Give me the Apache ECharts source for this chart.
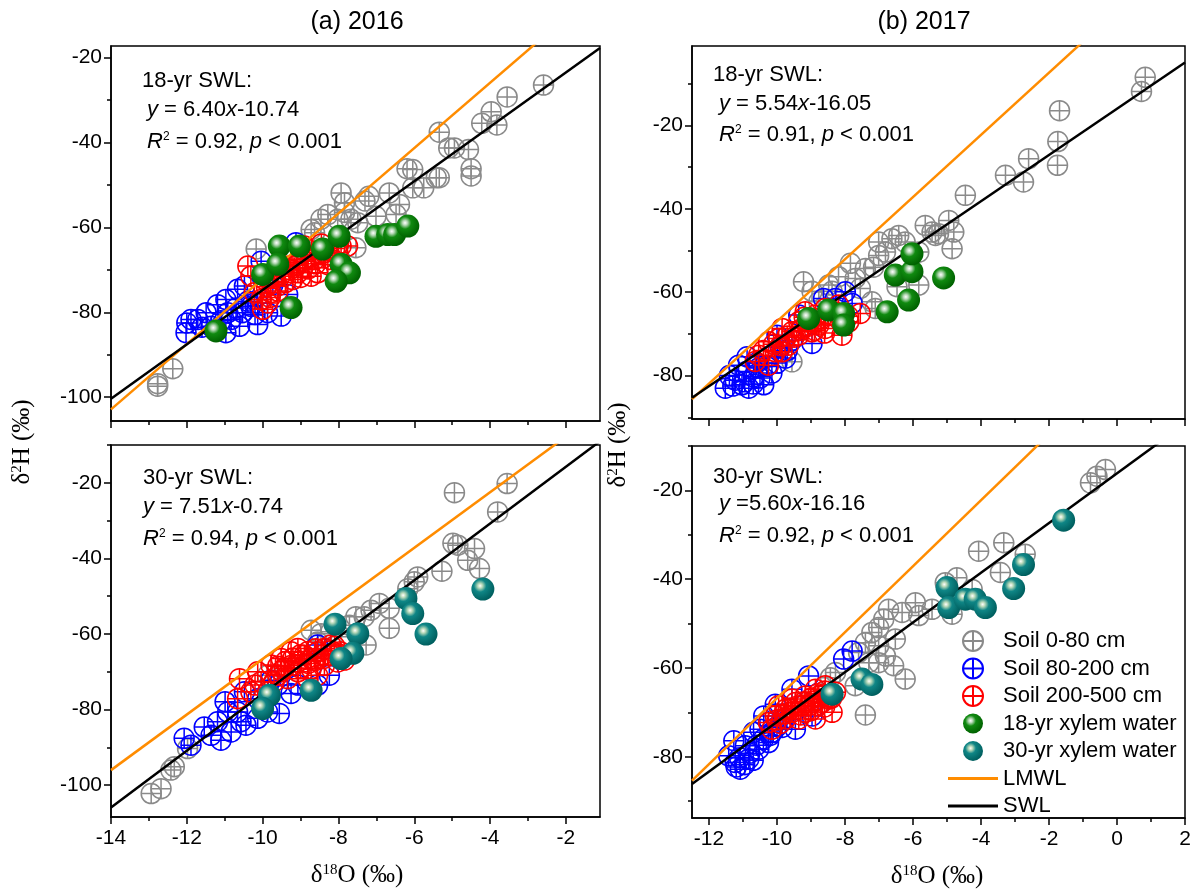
<!DOCTYPE html>
<html>
<head>
<meta charset="utf-8">
<script src="https://cdn.jsdelivr.net/npm/echarts@6/dist/echarts.min.js"></script>
<style>
html, body { margin: 0; background: #fff; }
#chart { width: 1203px; height: 894px; }
</style>
</head>
<body>
<div id="chart"></div>
<script>
// ---- data (δ18O, δ2H) ----
// (a) 2016, 18-yr stand
var a18Gray = [[-2.59,-26.5],[-3.55,-29.3],[-3.97,-32.8],[-4.22,-35.5],[-3.82,-35.9],[-5.34,-37.6],[-4.94,-41.3],[-5.09,-41.3],[-4.57,-41.7],[-4.50,-46.2],[-4.50,-47.9],[-5.34,-48.3],[-5.42,-48.3],[-5.75,-50.7],[-6.04,-46.4],[-6.19,-46.2],[-6.04,-50.7],[-6.39,-54.6],[-6.66,-51.9],[-7.20,-52.7],[-7.30,-53.8],[-7.01,-57.4],[-6.48,-57.0],[-7.93,-51.9],[-7.84,-54.2],[-8.28,-57.0],[-8.46,-58.1],[-7.67,-58.1],[-7.49,-58.9],[-7.84,-56.5],[-8.02,-58.1],[-8.63,-61.3],[-8.72,-60.5],[-7.54,-64.8],[-10.17,-65.1],[-12.37,-93.3],[-12.77,-97.4],[-12.77,-96.8]];
var a18Blue = [[-12.0,-82.5],[-11.89,-81.7],[-12.02,-84.8],[-11.71,-81.7],[-11.49,-80.1],[-10.97,-77.0],[-11.19,-78.2],[-10.97,-84.8],[-10.61,-83.3],[-10.83,-81.7],[-10.13,-82.9],[-10.53,-80.1],[-10.39,-77.4],[-10.31,-78.6],[-10.04,-68.0],[-10.48,-73.8],[-9.34,-75.8],[-9.51,-80.9],[-9.87,-80.1],[-9.73,-73.5],[-10.66,-74.6],[-9.12,-63.6],[-10.92,-80.1],[-11.36,-83.3],[-10.13,-77.8],[-11.1,-82.0],[-10.7,-79.0],[-10.2,-80.5],[-11.6,-83.5]];
var a18Red = [[-10.39,-69.1],[-10.31,-71.5],[-9.95,-72.3],[-10.04,-77.0],[-10.0,-79.3],[-9.78,-75.4],[-9.51,-69.1],[-9.25,-66.8],[-9.07,-68.3],[-8.72,-71.5],[-8.63,-67.6],[-8.37,-66.0],[-8.20,-67.6],[-7.93,-64.4],[-7.76,-64.4],[-8.81,-65.2],[-8.55,-70.7],[-9.43,-71.5],[-9.60,-73.8],[-9.87,-77.8],[-9.07,-70.7],[-8.28,-68.8],[-8.90,-64.4],[-10.22,-75.4],[-9.21,-72.3],[-8.02,-66.0],[-8.94,-69.5],
    [-9.9,-74.0],[-9.7,-72.0],[-9.5,-71.0],[-9.3,-70.0],[-9.1,-69.0],[-8.9,-68.0],[-8.7,-67.0],[-8.5,-66.0],[-8.3,-65.5],[-8.1,-65.0],[-9.0,-71.8],[-8.8,-69.8],[-8.6,-68.6],[-8.4,-67.2],[-9.4,-73.0],[-9.6,-75.0],[-9.8,-76.5],[-9.2,-67.5],[-8.0,-64.0],[-8.45,-63.9]];
var a18Xylem = [[-9.56,-64.4],[-9.03,-64.4],[-8.42,-65.1],[-7.98,-62.1],[-7.93,-68.7],[-7.71,-70.7],[-8.06,-72.7],[-9.25,-78.9],[-11.23,-84.4],[-10.0,-71.1],[-9.60,-68.7],[-7.01,-62.1],[-6.70,-61.7],[-6.52,-61.7],[-6.17,-59.7]];

// (b) 2017, 18-yr stand
var b18Gray = [[0.83,-8.5],[0.72,-11.9],[-1.69,-16.5],[-1.74,-23.9],[-1.75,-29.6],[-2.60,-28.0],[-3.28,-32.0],[-2.75,-33.6],[-4.46,-36.8],[-4.95,-42.8],[-4.80,-45.6],[-4.85,-49.6],[-5.34,-46.4],[-5.44,-45.6],[-5.25,-46.0],[-5.64,-44.0],[-6.42,-46.4],[-6.62,-47.2],[-6.23,-48.0],[-7.01,-48.0],[-6.81,-50.4],[-7.01,-51.2],[-7.16,-54.0],[-7.40,-54.3],[-7.84,-53.1],[-7.70,-56.7],[-5.83,-50.4],[-5.83,-58.3],[-6.47,-58.7],[-7.21,-62.3],[-7.11,-63.9],[-7.55,-59.1],[-9.22,-57.5],[-8.97,-59.8],[-8.48,-58.3],[-8.38,-59.8],[-8.19,-56.3],[-8.77,-62.3],[-9.56,-76.7]];
var b18Blue = [[-11.52,-83.0],[-11.03,-82.2],[-10.83,-83.0],[-10.39,-82.2],[-11.23,-81.1],[-10.54,-78.2],[-10.88,-75.5],[-10.25,-75.5],[-9.90,-73.1],[-10.0,-70.3],[-9.56,-71.5],[-8.97,-72.3],[-8.63,-61.5],[-7.99,-59.9],[-7.79,-62.7],[-9.36,-65.5],[-10.69,-80.3],[-11.13,-77.5],[-10.15,-79.4],[-9.75,-75.8],[-8.28,-61.5],
    [-11.3,-82.5],[-10.95,-81.5],[-10.7,-82.0],[-10.5,-80.6],[-10.9,-79.0],[-10.6,-77.0],[-10.3,-77.8],[-10.0,-77.0],[-9.7,-74.0],[-11.4,-80.0]];
var b18Red = [[-10.64,-76.6],[-10.54,-75.1],[-10.25,-71.9],[-9.95,-71.1],[-9.85,-74.3],[-9.56,-69.5],[-9.36,-67.1],[-9.17,-64.7],[-8.87,-65.5],[-8.58,-63.9],[-8.19,-63.1],[-8.09,-70.3],[-7.55,-65.1],[-7.89,-67.1],[-8.97,-69.5],[-8.58,-68.7],[-9.36,-70.3],[-10.05,-74.3],[-9.07,-67.1],[-8.38,-65.5],[-9.66,-72.7],[-8.77,-67.9],[-9.26,-68.7],[-10.25,-77.5],[-9.85,-68.7],
    [-10.4,-74.0],[-10.1,-72.5],[-9.9,-72.8],[-9.7,-70.5],[-9.5,-70.8],[-9.3,-69.2],[-9.1,-68.2],[-8.9,-67.2],[-8.7,-66.4],[-8.5,-65.6],[-8.3,-64.7],[-8.1,-66.5],[-8.9,-69.1],[-9.2,-66.0],[-8.6,-69.8],[-7.9,-65.8]];
var b18Xylem = [[-9.07,-66.3],[-8.48,-64.3],[-8.04,-65.1],[-8.04,-67.9],[-6.76,-64.7],[-6.13,-61.9],[-6.52,-55.9],[-6.03,-55.1],[-6.03,-50.8],[-5.10,-56.6]];

// (a) 2016, 30-yr stand
var a30Gray = [[-3.55,-20.2],[-4.94,-22.6],[-3.80,-27.7],[-4.98,-36.0],[-4.85,-36.5],[-4.41,-37.4],[-4.59,-40.5],[-4.28,-42.7],[-5.27,-43.4],[-5.91,-44.9],[-6.0,-46.2],[-6.17,-48.0],[-6.66,-53.2],[-6.92,-51.9],[-7.14,-53.7],[-7.32,-55.4],[-7.54,-55.4],[-6.66,-58.5],[-7.27,-62.9],[-7.71,-57.7],[-8.72,-59.0],[-8.46,-59.9],[-8.20,-59.4],[-7.93,-60.7],[-8.55,-62.1],[-12.33,-95.1],[-12.42,-96.0],[-12.94,-102.2],[-12.68,-100.9],[-11.98,-90.3],[-9.87,-70.9]];
var a30Blue = [[-12.07,-87.6],[-11.89,-89.4],[-11.54,-84.6],[-11.10,-88.1],[-10.83,-85.9],[-11.36,-86.8],[-10.99,-77.9],[-10.92,-80.6],[-10.48,-75.3],[-10.44,-84.1],[-10.13,-82.3],[-9.87,-80.6],[-9.56,-81.0],[-9.25,-75.7],[-10.13,-77.1],[-10.66,-80.6],[-8.55,-62.9],[-8.24,-70.9],[-8.55,-73.5],[-9.78,-72.2],[-10.57,-83.2],[-11.19,-83.2],[-9.60,-73.5],[-9.07,-73.5]];
var a30Red = [[-10.61,-71.8],[-10.66,-77.1],[-10.31,-75.3],[-10.04,-72.6],[-9.78,-68.2],[-9.51,-66.5],[-9.25,-64.7],[-9.07,-63.8],[-8.90,-65.6],[-8.72,-66.5],[-8.55,-64.7],[-8.37,-63.8],[-8.20,-62.9],[-8.02,-67.4],[-7.84,-66.9],[-9.07,-70.0],[-9.34,-71.8],[-9.60,-70.9],[-8.72,-69.2],[-8.55,-70.9],[-9.07,-67.4],[-9.43,-69.1],[-8.37,-68.3],[-10.13,-70.0],[-8.81,-71.8],[-9.87,-75.3],[-8.20,-65.6],[-9.25,-68.3],
    [-9.6,-68.5],[-9.4,-67.3],[-9.2,-66.4],[-9.0,-65.5],[-8.8,-64.6],[-8.6,-63.9],[-8.4,-65.5],[-8.2,-64.4],[-8.0,-65.2],[-9.0,-69.0],[-8.8,-67.8],[-8.6,-67.0],[-8.4,-66.5],[-9.7,-72.6],[-10.2,-73.5],[-9.5,-69.8],[-8.1,-63.2],[-7.95,-64.7]];
var a30Xylem = [[-4.19,-48.1],[-6.22,-50.6],[-6.04,-54.6],[-5.69,-60.0],[-8.09,-57.4],[-7.49,-59.9],[-7.62,-65.1],[-7.93,-66.5],[-8.72,-74.9],[-9.82,-76.2],[-10.0,-79.7]];

// (b) 2017, 30-yr stand
var b30Gray = [[-0.34,-15.3],[-0.59,-16.8],[-0.78,-18.3],[-3.33,-31.8],[-4.07,-33.7],[-2.70,-34.4],[-3.43,-38.5],[-4.71,-39.7],[-5.05,-40.8],[-4.26,-42.3],[-4.85,-47.9],[-5.93,-45.3],[-6.72,-46.8],[-6.32,-47.5],[-6.86,-49.0],[-7.01,-50.9],[-7.21,-52.0],[-6.52,-53.5],[-7.01,-55.0],[-6.81,-57.3],[-6.23,-62.5],[-6.57,-59.5],[-7.40,-54.3],[-7.60,-56.5],[-7.30,-58.8],[-7.70,-64.0],[-7.40,-70.6],[-8.28,-61.0],[-8.43,-62.2],[-5.83,-48.2],[-5.44,-46.8],[-7.01,-58.8]];
var b30Blue = [[-11.27,-76.4],[-11.42,-79.8],[-11.08,-82.8],[-11.23,-81.3],[-10.83,-80.5],[-10.54,-78.3],[-10.39,-70.8],[-10.05,-68.2],[-9.56,-64.8],[-9.07,-61.8],[-8.04,-58.0],[-7.79,-56.2],[-10.69,-74.5],[-10.25,-76.8],[-9.85,-73.4],[-9.46,-73.8],[-8.97,-70.8],[-10.93,-77.5],[-10.15,-74.5],
    [-11.1,-80.2],[-10.95,-81.8],[-10.8,-79.2],[-10.6,-77.4],[-10.4,-76.0],[-10.2,-75.2],[-10.0,-73.2],[-9.8,-71.6],[-10.5,-73.8],[-11.2,-82.3],[-10.7,-80.8]];
var b30Red = [[-10.25,-72.3],[-10.05,-70.8],[-9.75,-69.3],[-9.46,-67.8],[-9.17,-66.3],[-8.87,-64.8],[-8.58,-64.0],[-8.28,-65.5],[-8.38,-70.0],[-8.87,-71.5],[-9.56,-70.0],[-10.15,-73.8],[-9.26,-68.5],[-9.75,-71.5],[-9.07,-68.5],[-8.68,-67.8],[-9.36,-71.5],[-9.95,-68.5],[-9.56,-67.0],[-8.77,-66.3],[-8.48,-67.0],[-9.17,-70.0],
    [-10.0,-71.7],[-9.8,-70.4],[-9.6,-69.0],[-9.4,-68.6],[-9.2,-67.6],[-9.0,-66.8],[-8.8,-65.8],[-8.6,-65.2],[-8.5,-66.5],[-9.0,-69.6],[-8.8,-68.5],[-8.6,-68.8],[-9.3,-70.6],[-9.9,-72.5],[-8.4,-66.8],[-8.9,-67.5]];
var b30Xylem = [[-1.57,-26.7],[-2.75,-36.7],[-3.04,-42.1],[-5.0,-41.9],[-4.95,-46.4],[-4.46,-44.5],[-4.17,-44.5],[-3.87,-46.4],[-7.50,-62.5],[-7.21,-63.7],[-8.38,-65.9]];

// fitted lines per panel: (a)18, (b)18, (a)30, (b)30
var swlSlope = [6.40, 5.54, 7.51, 5.60];
var swlIntercept = [-10.74, -16.05, -0.74, -16.16];
var lmwlSlope = [7.69, 7.45, 7.35, 7.43];
var lmwlIntercept = [4.8, 7.5, 6.9, 7.5];

// axis ranges and ticks
var xRange = [[-14, -1.1], [-12.5, 2], [-14, -1.1], [-12.5, 2]];
var yRange = [[-105.6, -17.3], [-90.4, -1], [-108.4, -10], [-93.8, -10]];
var xMajorTicks = [[-14, -12, -10, -8, -6, -4, -2], [-12, -10, -8, -6, -4, -2, 0, 2]];
var xMinorTicks = [[-13, -11, -9, -7, -5, -3], [-11, -9, -7, -5, -3, -1, 1]];
var yMajorTicks = [-100, -80, -60, -40, -20];
var yMinorTicks = [-110, -90, -70, -50, -30, -10];

var seriesNames = ['Soil 0-80 cm', 'Soil 80-200 cm', 'Soil 200-500 cm', '18-yr xylem water', '30-yr xylem water', 'LMWL', 'SWL'];

var panelData = [
    [a18Gray, a18Blue, a18Red, a18Xylem, 3],
    [b18Gray, b18Blue, b18Red, b18Xylem, 3],
    [a30Gray, a30Blue, a30Red, a30Xylem, 4],
    [b30Gray, b30Blue, b30Red, b30Xylem, 4]
];

// ---- layout ----
var gridBox = [
    { left: 111, top: 46, width: 489, height: 375 },
    { left: 692, top: 46, width: 493, height: 373 },
    { left: 111, top: 445, width: 489, height: 372 },
    { left: 692, top: 446, width: 493, height: 372 }
];

var SANS = '"Liberation Sans", Arial, sans-serif';
var SERIF = '"Liberation Serif", "Times New Roman", serif';
var ringSymbol = 'path://M10,0A10,10,0,1,1,10,20A10,10,0,1,1,10,0ZM10,0L10,20M0,10L20,10';
var barIcon = 'path://M0,0H50V3H0Z';

function sphere(mid, dark) {
    return {
        type: 'radial', x: 0.38, y: 0.36, r: 0.64,
        colorStops: [
            { offset: 0, color: '#ffffff' },
            { offset: 0.16, color: '#b9d9b9' },
            { offset: 0.42, color: mid },
            { offset: 1, color: dark }
        ]
    };
}
var xylemColor = [null, null, null, sphere('#108a10', '#006200'), sphere('#0f8686', '#005f5f')];
var ringColor = ['#8a8a8a', '#0000ff', '#ff0000'];

function inRange(list, r) {
    return list.filter(function (v) { return v >= r[0] - 1e-6 && v <= r[1] + 1e-6; });
}

var grids = [], xAxes = [], yAxes = [], series = [];
var tickLine = { color: '#000', width: 1.5 };

gridBox.forEach(function (box, g) {
    grids.push({
        left: box.left, top: box.top, width: box.width, height: box.height,
        show: true, borderColor: '#000', borderWidth: 1.5, backgroundColor: 'transparent'
    });
    var xm = inRange(xMajorTicks[g % 2], xRange[g]);
    var xn = inRange(xMinorTicks[g % 2], xRange[g]);
    var ym = inRange(yMajorTicks, yRange[g]);
    var yn = inRange(yMinorTicks, yRange[g]);

    xAxes.push({
        type: 'value', gridIndex: g, min: xRange[g][0], max: xRange[g][1], position: 'bottom',
        axisLine: { onZero: false, lineStyle: tickLine },
        axisTick: { customValues: xm, length: 7, lineStyle: tickLine },
        axisLabel: { show: g >= 2, customValues: xm, margin: 11, fontSize: 21, fontFamily: SANS, color: '#000' },
        splitLine: { show: false }
    });
    xAxes.push({
        type: 'value', gridIndex: g, min: xRange[g][0], max: xRange[g][1], position: 'bottom',
        axisLine: { show: false, onZero: false },
        axisTick: { customValues: xn, length: 4, lineStyle: tickLine },
        axisLabel: { show: false },
        splitLine: { show: false }
    });
    yAxes.push({
        type: 'value', gridIndex: g, min: yRange[g][0], max: yRange[g][1], position: 'left',
        axisLine: { onZero: false, lineStyle: tickLine },
        axisTick: { customValues: ym, length: 7, lineStyle: tickLine },
        axisLabel: { customValues: ym, margin: 9, fontSize: 21, fontFamily: SANS, color: '#000' },
        splitLine: { show: false }
    });
    yAxes.push({
        type: 'value', gridIndex: g, min: yRange[g][0], max: yRange[g][1], position: 'left',
        axisLine: { show: false, onZero: false },
        axisTick: { customValues: yn, length: 4, lineStyle: tickLine },
        axisLabel: { show: false },
        splitLine: { show: false }
    });

    var pd = panelData[g];
    for (var k = 0; k < 3; k++) {
        series.push({
            name: seriesNames[k], type: 'scatter', xAxisIndex: 2 * g, yAxisIndex: 2 * g,
            data: pd[k], symbol: ringSymbol, symbolSize: 20, z: 2 + k,
            itemStyle: { color: 'rgba(0,0,0,0)', borderColor: ringColor[k], borderWidth: 1.5, opacity: 1 }
        });
    }
    var x0 = xRange[g][0], x1 = xRange[g][1];
    series.push({
        name: 'LMWL', type: 'line', xAxisIndex: 2 * g, yAxisIndex: 2 * g, symbol: 'none', z: 6,
        data: [[x0, lmwlSlope[g] * x0 + lmwlIntercept[g]], [x1, lmwlSlope[g] * x1 + lmwlIntercept[g]]],
        lineStyle: { color: '#ff8c00', width: 2.5 }, itemStyle: { color: '#ff8c00' }
    });
    series.push({
        name: 'SWL', type: 'line', xAxisIndex: 2 * g, yAxisIndex: 2 * g, symbol: 'none', z: 7,
        data: [[x0, swlSlope[g] * x0 + swlIntercept[g]], [x1, swlSlope[g] * x1 + swlIntercept[g]]],
        lineStyle: { color: '#000', width: 2.5 }, itemStyle: { color: '#000' }
    });
    series.push({
        name: seriesNames[pd[4]], type: 'scatter', xAxisIndex: 2 * g, yAxisIndex: 2 * g,
        data: pd[3], symbol: 'circle', symbolSize: 23, z: 8,
        itemStyle: { color: xylemColor[pd[4]], opacity: 1 }
    });
});

// ---- text ----
var rich = {
    i: { fontStyle: 'italic', fontSize: 22, fontFamily: SANS, color: '#000' },
    s: { fontSize: 12, fontFamily: SANS, color: '#000', verticalAlign: 'top' }
};
function txt(x, y, text, extra) {
    var style = { text: text, x: 0, y: 0, fontSize: 22, fontFamily: SANS, fill: '#000', align: 'left', verticalAlign: 'middle', rich: rich };
    for (var k in extra || {}) style[k] = extra[k];
    return { type: 'text', x: x, y: y, style: style, silent: true };
}
var serifRich = {
    a: { fontSize: 25, fontFamily: SERIF, color: '#000' },
    s: { fontSize: 15, fontFamily: SERIF, color: '#000', verticalAlign: 'top' }
};
function axisTitle(x, y, text, rot) {
    var el = txt(x, y, text, { align: 'center', rich: serifRich });
    el.rotation = rot;
    return el;
}

var graphics = [
    txt(357, 22, '(a) 2016', { align: 'center', fontSize: 25 }),
    txt(924, 22, '(b) 2017', { align: 'center', fontSize: 25 }),

    txt(142, 81, '18-yr SWL:'),
    txt(147, 110, '{i|y} = 6.40{i|x}-10.74'),
    txt(147, 142, '{i|R}{s|2} = 0.92, {i|p} < 0.001'),

    txt(713, 75, '18-yr SWL:'),
    txt(719, 104, '{i|y} = 5.54{i|x}-16.05'),
    txt(719, 135, '{i|R}{s|2} = 0.91, {i|p} < 0.001'),

    txt(143, 478, '30-yr SWL:'),
    txt(143, 507, '{i|y} = 7.51{i|x}-0.74'),
    txt(143, 539, '{i|R}{s|2} = 0.94, {i|p} < 0.001'),

    txt(713, 477, '30-yr SWL:'),
    txt(719, 504, '{i|y} =5.60{i|x}-16.16'),
    txt(719, 536, '{i|R}{s|2} = 0.92, {i|p} < 0.001'),

    axisTitle(22, 442, '{a|δ}{s|2}{a|H (‰)}', Math.PI / 2),
    axisTitle(618, 445, '{a|δ}{s|2}{a|H (‰)}', Math.PI / 2),
    axisTitle(357, 875, '{a|δ}{s|18}{a|O (‰)}', 0),
    axisTitle(937, 876, '{a|δ}{s|18}{a|O (‰)}', 0)
];

var legendData = seriesNames.map(function (n) {
    return (n === 'LMWL' || n === 'SWL') ? { name: n, icon: barIcon } : { name: n };
});

var myChart = echarts.init(document.getElementById('chart'), null, { renderer: 'canvas' });
myChart.setOption({
    animation: false,
    backgroundColor: '#fff',
    grid: grids,
    xAxis: xAxes,
    yAxis: yAxes,
    legend: {
        data: legendData,
        orient: 'vertical',
        left: 948, top: 630,
        padding: 0,
        itemWidth: 50, itemHeight: 20, itemGap: 5.5,
        selectedMode: false,
        textStyle: { fontSize: 22, fontFamily: SANS, color: '#000' }
    },
    series: series,
    graphic: graphics
});
</script>
</body>
</html>
